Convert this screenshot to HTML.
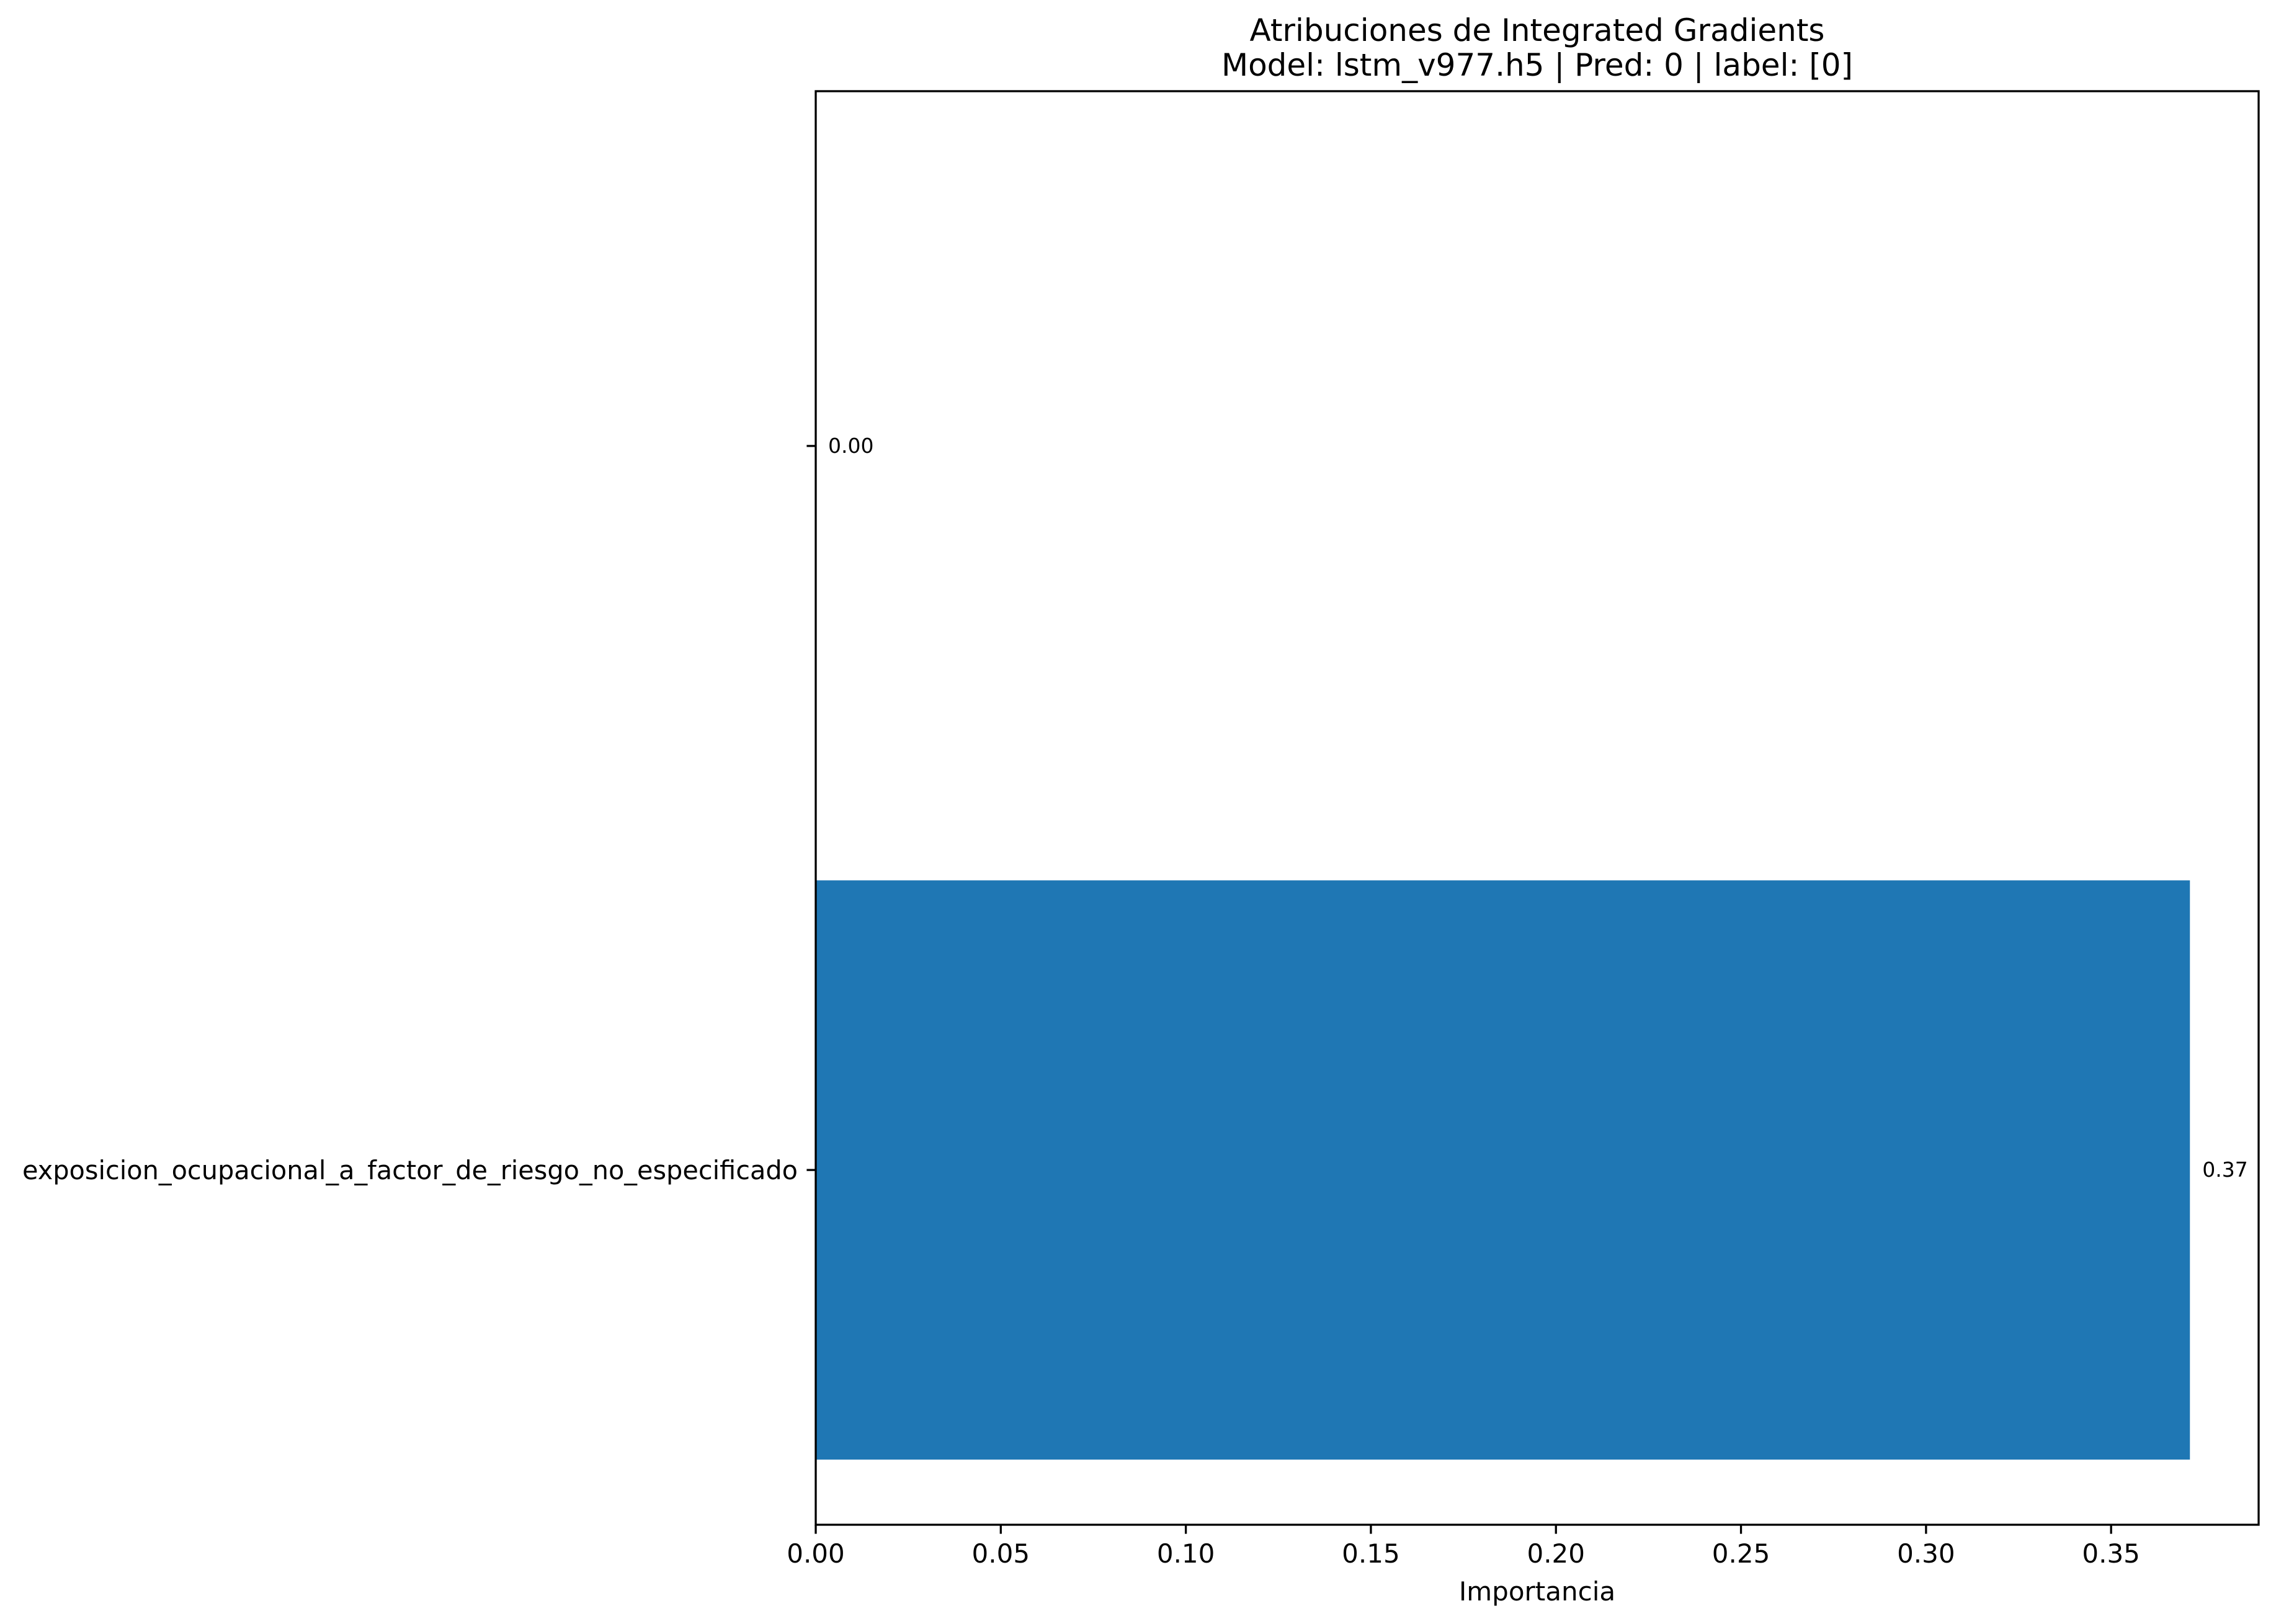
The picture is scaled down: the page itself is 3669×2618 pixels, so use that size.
<!DOCTYPE html>
<html><head><meta charset="utf-8"><style>
html,body{margin:0;padding:0;background:#fff;}
svg{display:block;font-family:"DejaVu Sans","Liberation Sans",sans-serif;}
</style></head><body>
<svg id="chart" xmlns="http://www.w3.org/2000/svg" width="3669" height="2618" viewBox="0 0 3669 2618">
<rect width="3669" height="2618" fill="#fff"/>
<text x="2478" y="66" font-size="50" text-anchor="middle">Atribuciones de Integrated Gradients</text>
<text x="2478" y="122" font-size="50" text-anchor="middle">Model: lstm_v977.h5 | Pred: 0 | label: [0]</text>
<g id="bars"></g>
<g id="xaxis"></g>
<g id="yaxis"></g>
<rect x="1315" y="147" width="2326" height="2311" fill="none" stroke="#000" stroke-width="3.3"/>
<text x="2478" y="2580" font-size="42" text-anchor="middle">Importancia</text>
</svg>
<script>
const categories = ["exposicion_ocupacional_a_factor_de_riesgo_no_especificado", ""];
const values = [0.3713, 0.0];
const valueLabels = ["0.37", "0.00"];
const xTicks = [0, 0.05, 0.10, 0.15, 0.20, 0.25, 0.30, 0.35];
const xTickLabels = ["0.00","0.05","0.10","0.15","0.20","0.25","0.30","0.35"];

const NS = "http://www.w3.org/2000/svg";
const L = 1315, R = 3641, T = 147, B = 2458;
const xMax = Math.max(...values) * 1.05 || 1;
const yMin = -0.49, yMax = (categories.length - 1) + 0.49;
function xs(v){ return L + (v / xMax) * (R - L); }
function ys(v){ return B - (v - yMin) / (yMax - yMin) * (B - T); }
function mk(tag, attrs, parent){
  const e = document.createElementNS(NS, tag);
  for (const k in attrs) e.setAttribute(k, attrs[k]);
  parent.appendChild(e);
  return e;
}
const gb = document.getElementById('bars');
const gx = document.getElementById('xaxis');
const gy = document.getElementById('yaxis');
values.forEach((v, i) => {
  const y0 = ys(i + 0.4), y1 = ys(i - 0.4);
  const r = mk('rect', {x: xs(0), y: y0, width: Math.max(0, xs(v) - xs(0)), height: y1 - y0, fill: '#1f77b4'}, gb);
  
  
  const t = mk('text', {x: xs(v) + 20, y: ys(i) + 11, 'font-size': 33}, gb);
  t.textContent = valueLabels[i];
  
  
  const tk = mk('line', {x1: L, x2: L - 14.6, y1: ys(i), y2: ys(i), stroke: '#000', 'stroke-width': 3.3}, gy);
  
  
  const lb = mk('text', {x: L - 29, y: ys(i) + 15, 'font-size': 42, 'text-anchor': 'end'}, gy);
  lb.textContent = categories[i];
  if (categories[i].length > 50) {
    lb.setAttribute('textLength', 1250);
    lb.setAttribute('lengthAdjust', 'spacingAndGlyphs');
  }
  
  
});
xTicks.forEach((v, i) => {
  const tk = mk('line', {x1: xs(v), x2: xs(v), y1: B, y2: B + 14.6, stroke: '#000', 'stroke-width': 3.3}, gx);
  
  
  const lb = mk('text', {x: xs(v), y: B + 61, 'font-size': 42, 'text-anchor': 'middle'}, gx);
  lb.textContent = xTickLabels[i];
  
  
});
</script>
</body></html>
